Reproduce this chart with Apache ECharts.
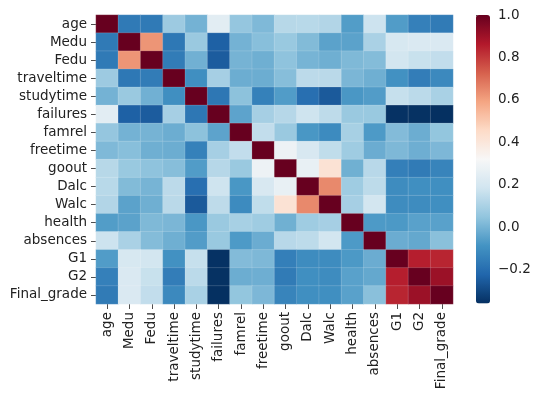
<!DOCTYPE html>
<html><head><meta charset="utf-8">
<script src="https://cdn.jsdelivr.net/npm/echarts@6/dist/echarts.min.js"></script>
<style>html,body{margin:0;padding:0;background:#fff}#c{width:541px;height:401px}</style>
</head><body><div id="c"></div>
<script>
const labels = ['age','Medu','Fedu','traveltime','studytime','failures','famrel','freetime','goout','Dalc','Walc','health','absences','G1','G2','Final_grade'];
const rowAge = [1, -0.164, -0.163, 0.071, -0.004, 0.244, 0.054, 0.016, 0.127, 0.131, 0.117, -0.062, 0.175, -0.064, -0.144, -0.162];
const rowMedu = [-0.164, 1, 0.623, -0.171, 0.065, -0.237, -0.004, 0.031, 0.064, 0.020, -0.047, -0.047, 0.100, 0.205, 0.216, 0.217];
const rowFedu = [-0.163, 0.623, 1, -0.158, -0.009, -0.250, -0.001, -0.013, 0.043, 0.002, -0.013, 0.015, 0.024, 0.190, 0.165, 0.152];
const rowTraveltime = [0.071, -0.171, -0.158, 1, -0.101, 0.092, -0.017, -0.017, 0.029, 0.138, 0.134, 0.008, -0.013, -0.093, -0.153, -0.117];
const rowStudytime = [-0.004, 0.065, -0.009, -0.101, 1, -0.174, 0.040, -0.143, -0.064, -0.196, -0.254, -0.076, -0.063, 0.161, 0.136, 0.098];
const rowFailures = [0.244, -0.237, -0.250, 0.092, -0.174, 1, -0.044, 0.092, 0.125, 0.180, 0.142, 0.066, 0.064, -0.355, -0.356, -0.360];
const rowFamrel = [0.054, -0.004, -0.001, -0.017, 0.040, -0.044, 1, 0.151, 0.065, -0.078, -0.113, 0.094, -0.070, 0.022, -0.018, 0.051];
const rowFreetime = [0.016, 0.031, -0.013, -0.017, -0.143, 0.092, 0.151, 1, 0.285, 0.209, 0.148, 0.076, -0.020, 0.013, -0.014, 0.011];
const rowGoout = [0.127, 0.064, 0.043, 0.029, -0.064, 0.125, 0.065, 0.285, 1, 0.267, 0.420, -0.010, 0.130, -0.149, -0.162, -0.133];
const rowDalc = [0.131, 0.020, 0.002, 0.138, -0.196, 0.180, -0.078, 0.209, 0.267, 1, 0.648, 0.077, 0.140, -0.110, -0.100, -0.100];
const rowWalc = [0.117, -0.047, -0.013, 0.134, -0.254, 0.142, -0.113, 0.148, 0.420, 0.648, 1, 0.092, 0.190, -0.110, -0.110, -0.100];
const rowHealth = [-0.062, -0.047, 0.015, 0.008, -0.076, 0.066, 0.094, 0.076, -0.010, 0.077, 0.092, 1, -0.070, -0.073, -0.050, -0.050];
const rowAbsences = [0.175, 0.100, 0.024, -0.013, -0.063, 0.064, -0.070, -0.020, 0.130, 0.140, 0.190, -0.070, 1, -0.020, -0.032, 0.034];
const rowG1 = [-0.064, 0.205, 0.190, -0.093, 0.161, -0.355, 0.022, 0.013, -0.149, -0.110, -0.110, -0.073, -0.020, 1, 0.852, 0.840];
const rowG2 = [-0.144, 0.216, 0.165, -0.153, 0.136, -0.356, -0.018, -0.014, -0.162, -0.100, -0.110, -0.050, -0.032, 0.852, 1, 0.905];
const rowFinal = [-0.162, 0.217, 0.152, -0.117, 0.098, -0.360, 0.051, 0.011, -0.133, -0.100, -0.100, -0.050, 0.034, 0.840, 0.905, 1];
const colorbarTicks = [-0.2, 0.0, 0.2, 0.4, 0.6, 0.8, 1.0];

const rows = [rowAge,rowMedu,rowFedu,rowTraveltime,rowStudytime,rowFailures,rowFamrel,rowFreetime,rowGoout,rowDalc,rowWalc,rowHealth,rowAbsences,rowG1,rowG2,rowFinal];
const data = [];
rows.forEach((r, i) => r.forEach((v, j) => data.push([j, i, v])));
const vmin = Math.min(...rows.flat());
const vmax = 1.0;
const rdbuR = ['#053061','#2166ac','#4393c3','#92c5de','#d1e5f0','#f7f7f7','#fddbc7','#f4a582','#d6604d','#b2182b','#67001f'];
const font = 'DejaVu Sans';
const txt = '#222';
const fs = 13.5;
const fmt = v => (v < 0 ? '\u2212' : '') + Math.abs(v).toFixed(1);

const chart = echarts.init(document.getElementById('c'), null, {renderer: 'canvas'});
chart.setOption({
  animation: false,
  backgroundColor: '#fff',
  grid: [
    {left: 96, top: 15, width: 357, height: 289},
    {left: 476, top: 15, width: 14, height: 288.5}
  ],
  xAxis: [
    {type: 'category', data: labels, gridIndex: 0,
     axisLine: {show: false}, splitLine: {show: false},
     axisTick: {show: true, alignWithLabel: true, length: 5, lineStyle: {color: txt, width: 0.8}},
     axisLabel: {rotate: 90, interval: 0, fontFamily: font, fontSize: fs, color: txt, margin: 8}},
    {type: 'value', gridIndex: 1, show: false, min: 0, max: 1}
  ],
  yAxis: [
    {type: 'category', data: labels, gridIndex: 0, inverse: true,
     axisLine: {show: false}, splitLine: {show: false},
     axisTick: {show: true, alignWithLabel: true, length: 5, lineStyle: {color: txt, width: 0.8}},
     axisLabel: {interval: 0, fontFamily: font, fontSize: fs, color: txt, margin: 9}},
    {type: 'value', gridIndex: 1, position: 'right', min: vmin, max: vmax,
     axisLine: {show: false}, splitLine: {show: false},
     axisTick: {show: true, length: 4, customValues: colorbarTicks, lineStyle: {color: txt, width: 0.8}},
     axisLabel: {customValues: colorbarTicks, formatter: fmt, fontFamily: font, fontSize: fs, color: txt, margin: 8}}
  ],
  visualMap: {
    type: 'continuous', min: vmin, max: vmax, seriesIndex: 0,
    calculable: false, realtime: false, text: null, showLabel: false,
    left: 476, top: 15, itemWidth: 14, itemHeight: 288.5, padding: 0,
    inRange: {color: rdbuR}, hoverLink: false
  },
  series: [
    {type: 'heatmap', xAxisIndex: 0, yAxisIndex: 0, data: data,
     itemStyle: {borderColor: 'rgba(255,255,255,0.25)', borderWidth: 0.6},
     emphasis: {disabled: true}},
    {type: 'scatter', xAxisIndex: 1, yAxisIndex: 1, data: [], silent: true}
  ]
});
</script></body></html>
